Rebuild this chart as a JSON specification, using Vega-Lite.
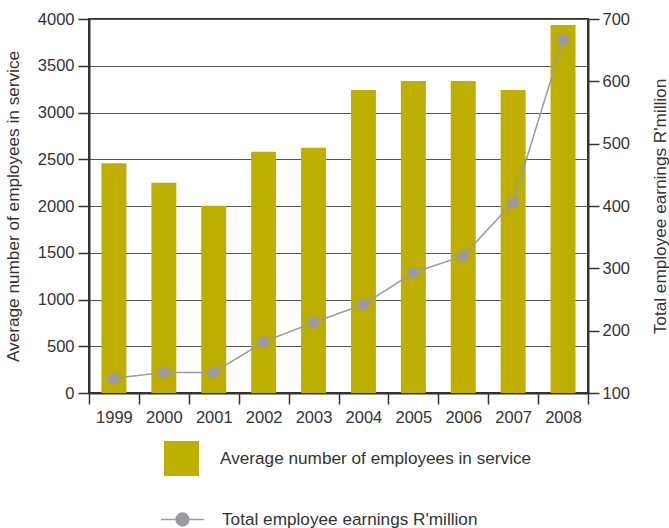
{
  "$schema": "https://vega.github.io/schema/vega-lite/v6.json",
  "autosize": "none",
  "padding": {"left": 89, "top": 19, "right": 81, "bottom": 135},
  "width": 499,
  "height": 374,
  "config": {
    "font": "Liberation Sans",
    "view": {"stroke": "#333333", "strokeWidth": 2},
    "axis": {
      "labelFont": "Liberation Sans",
      "titleFont": "Liberation Sans",
      "labelFontSize": 16.5,
      "titleFontSize": 17.2,
      "titleFontWeight": "normal",
      "labelColor": "#333333",
      "titleColor": "#333333",
      "tickColor": "#333333",
      "domainColor": "#333333",
      "domainWidth": 2,
      "tickWidth": 1.5,
      "tickSize": 11
    },
    "legend": {
      "labelFont": "Liberation Sans",
      "labelFontSize": 17.2,
      "labelColor": "#333333",
      "labelLimit": 0,
      "padding": 0
    }
  },
  "data": {
    "values": [
      {"year": "1999", "employees": 2458, "earnings": 123.5},
      {"year": "2000", "employees": 2248, "earnings": 133},
      {"year": "2001", "employees": 2002, "earnings": 133},
      {"year": "2002", "employees": 2579, "earnings": 182},
      {"year": "2003", "employees": 2622, "earnings": 213},
      {"year": "2004", "employees": 3241, "earnings": 242},
      {"year": "2005", "employees": 3338, "earnings": 293},
      {"year": "2006", "employees": 3338, "earnings": 320},
      {"year": "2007", "employees": 3241, "earnings": 406},
      {"year": "2008", "employees": 3936, "earnings": 666}
    ]
  },
  "encoding": {
    "x": {
      "field": "year",
      "type": "ordinal",
      "scale": {"paddingInner": 0, "paddingOuter": 0},
      "axis": {"title": null, "labelAngle": 0, "tickBand": "extent", "labelPadding": 5}
    }
  },
  "layer": [
    {
      "mark": {"type": "bar", "width": {"band": 0.5}},
      "encoding": {
        "y": {
          "field": "employees",
          "type": "quantitative",
          "scale": {"domain": [0, 4000]},
          "axis": {
            "title": "Average number of employees in service",
            "values": [0, 500, 1000, 1500, 2000, 2500, 3000, 3500, 4000],
            "format": "d",
            "grid": true,
            "gridColor": "#555555",
            "gridWidth": 1,
            "labelPadding": 4,
            "titlePadding": 15
          }
        },
        "color": {
          "datum": "Average number of employees in service",
          "type": "nominal",
          "scale": {"range": ["#BDAE00"]},
          "legend": {
            "title": null,
            "orient": "none",
            "legendX": 75,
            "legendY": 422,
            "symbolType": "square",
            "symbolSize": 1225,
            "symbolStrokeWidth": 0,
            "labelOffset": 21
          }
        }
      }
    },
    {
      "mark": {"type": "line", "color": "#9b9b9f", "strokeWidth": 1.5},
      "encoding": {
        "y": {
          "field": "earnings",
          "type": "quantitative",
          "scale": {"domain": [100, 700]},
          "axis": {
            "orient": "right",
            "title": "Total employee earnings R'million",
            "titleAngle": 270,
            "values": [100, 200, 300, 400, 500, 600, 700],
            "format": "d",
            "grid": false,
            "labelPadding": 3,
            "titlePadding": 40
          }
        },
        "stroke": {
          "datum": "Total employee earnings R'million",
          "type": "nominal",
          "scale": {"range": ["#9b9b9f"]},
          "legend": {
            "title": null,
            "orient": "none",
            "legendX": 71,
            "legendY": 478,
            "symbolType": "M -1 0 L 1 0 M 0.3 0 A 0.3 0.3 0 1 1 -0.3 0 A 0.3 0.3 0 1 1 0.3 0 Z",
            "symbolSize": 1849,
            "symbolStrokeWidth": 1.5,
            "symbolFillColor": "#9b9b9f",
            "labelOffset": 17
          }
        }
      }
    },
    {
      "mark": {"type": "point", "filled": true, "shape": "circle", "size": 140, "color": "#9b9b9f", "opacity": 1},
      "encoding": {
        "y": {"field": "earnings", "type": "quantitative", "scale": {"domain": [100, 700]}, "axis": null}
      }
    }
  ],
  "resolve": {"scale": {"y": "independent", "color": "independent", "stroke": "independent"}}
}
